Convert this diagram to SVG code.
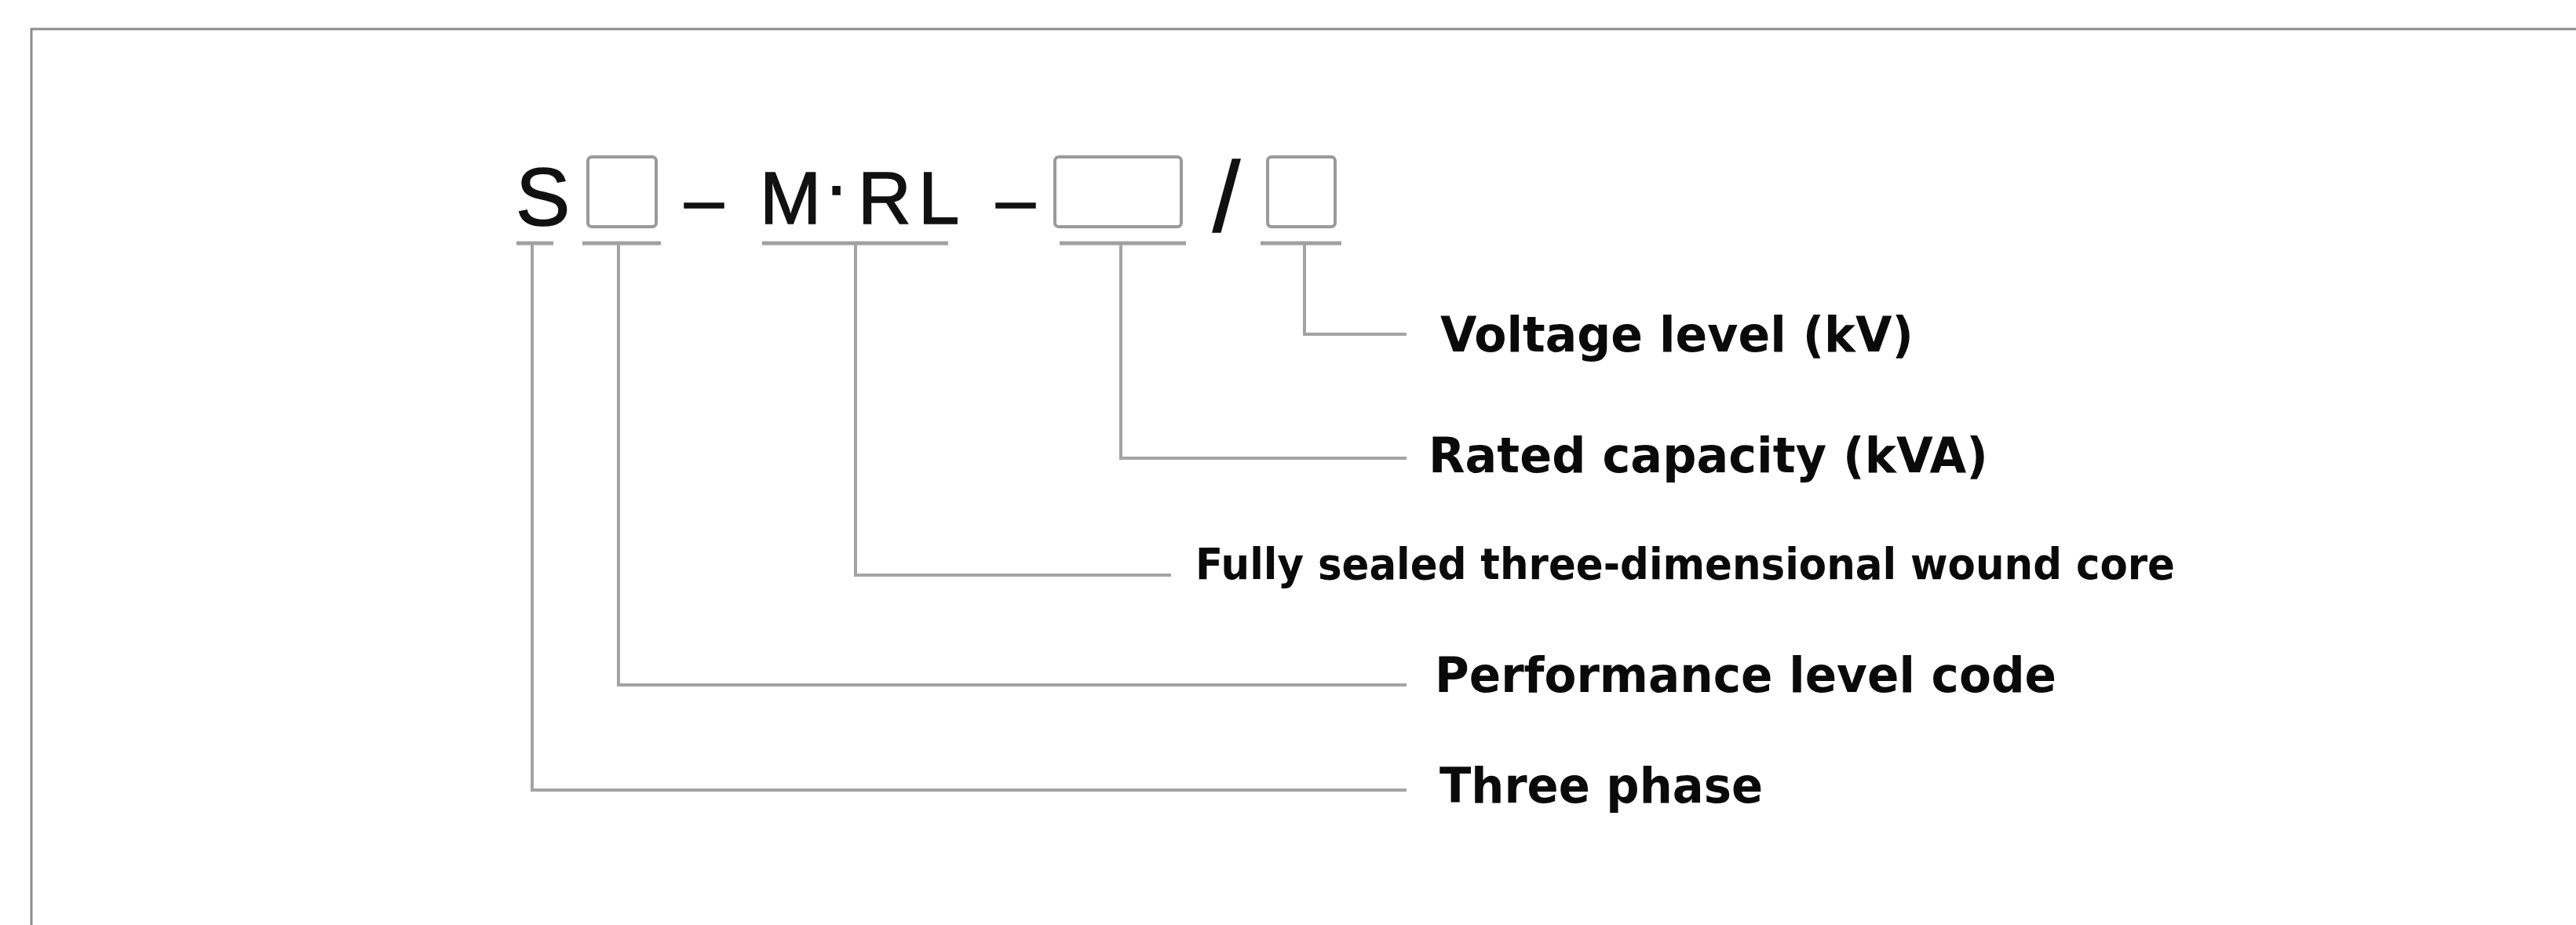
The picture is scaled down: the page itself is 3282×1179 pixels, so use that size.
<svg xmlns="http://www.w3.org/2000/svg" width="3282" height="1179" viewBox="0 0 3282 1179">
<style>
  .code { font-family: "Liberation Sans", Arial, sans-serif; fill: #111; stroke: #111; stroke-width: 1.5; }
  .lbl { font-family: "DejaVu Sans", Verdana, sans-serif; font-weight: bold; fill: #0a0a0a; }
  .box { fill: none; stroke: #9a9a9a; stroke-width: 4; }
  .ul { stroke: #a0a0a0; stroke-width: 5; fill: none; }
  .conn { stroke: #a3a3a3; stroke-width: 4; fill: none; stroke-linejoin: miter; }
</style>
<rect width="3282" height="1179" fill="#ffffff"/>
<path d="M40 1190 V37 H3290" fill="none" stroke="#8c8c8c" stroke-width="3"/>

<g id="code">
  <g id="node-s"><text class="code" x="657" y="287" font-size="104">S</text></g>
  <g id="node-box1"><rect class="box" x="749" y="200" width="87" height="89" rx="5"/></g>
  <g id="dash1"><text class="code" x="872" y="285" font-size="90" stroke-width="3">–</text></g>
  <g id="node-mrl"><text class="code" y="285" font-size="94"><tspan x="968">M</tspan><tspan x="1050" dy="-16">·</tspan><tspan x="1093 1170" dy="16">RL</tspan></text></g>
  <g id="dash2"><text class="code" x="1269" y="285" font-size="90" stroke-width="3">–</text></g>
  <g id="node-box2"><rect class="box" x="1344" y="200" width="161" height="89" rx="5"/></g>
  <g id="slash"><text class="code" x="1545" y="295" font-size="126">/</text></g>
  <g id="node-box3"><rect class="box" x="1615" y="200" width="86" height="89" rx="5"/></g>
</g>

<g id="underlines">
  <line class="ul" x1="658" y1="310" x2="705" y2="310"/>
  <line class="ul" x1="742" y1="310" x2="842" y2="310"/>
  <line class="ul" x1="971" y1="310" x2="1208" y2="310"/>
  <line class="ul" x1="1350" y1="310" x2="1511" y2="310"/>
  <line class="ul" x1="1606" y1="310" x2="1709" y2="310"/>
</g>

<g id="connectors">
  <path class="conn" d="M1662 310 V426 H1792"/>
  <path class="conn" d="M1428 310 V584 H1792"/>
  <path class="conn" d="M1090 310 V733 H1492"/>
  <path class="conn" d="M788 310 V873 H1792"/>
  <path class="conn" d="M678 310 V1007 H1792"/>
</g>

<g id="label-voltage"><text class="lbl" x="1835" y="448" font-size="63" textLength="603" lengthAdjust="spacingAndGlyphs">Voltage level (kV)</text></g>
<g id="label-rated"><text class="lbl" x="1820" y="602" font-size="63" textLength="713" lengthAdjust="spacingAndGlyphs">Rated capacity (kVA)</text></g>
<g id="label-core"><text class="lbl" x="1523" y="738" font-size="55" textLength="1248" lengthAdjust="spacingAndGlyphs">Fully sealed three-dimensional wound core</text></g>
<g id="label-perf"><text class="lbl" x="1828" y="882" font-size="63" textLength="792" lengthAdjust="spacingAndGlyphs">Performance level code</text></g>
<g id="label-three"><text class="lbl" x="1834" y="1023" font-size="63" textLength="412" lengthAdjust="spacingAndGlyphs">Three phase</text></g>
</svg>
